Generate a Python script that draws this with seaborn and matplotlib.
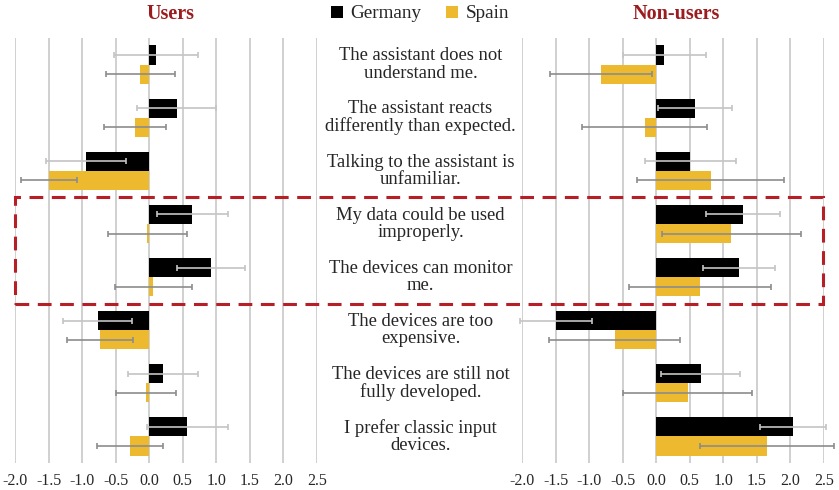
import matplotlib
matplotlib.use("Agg")
import matplotlib.pyplot as plt
import matplotlib.transforms as mtransforms
from matplotlib.patches import Rectangle
import seaborn as sns
import pandas as pd
import numpy as np

# ---------------- data ----------------
items = [
    "The assistant does not\nunderstand me.",
    "The assistant reacts\ndifferently than expected.",
    "Talking to the assistant is\nunfamiliar.",
    "My data could be used\nimproperly.",
    "The devices can monitor\nme.",
    "The devices are too\nexpensive.",
    "The devices are still not\nfully developed.",
    "I prefer classic input\ndevices.",
]
countries = ["Germany", "Spain"]

users_germany = [0.10, 0.41, -0.94, 0.64, 0.92, -0.77, 0.21, 0.57]
users_spain = [-0.13, -0.21, -1.49, -0.03, 0.06, -0.73, -0.05, -0.29]
users_germany_sd = [0.62, 0.59, 0.60, 0.53, 0.51, 0.51, 0.52, 0.60]
users_spain_sd = [0.51, 0.46, 0.42, 0.59, 0.57, 0.49, 0.45, 0.49]

nonusers_germany = [0.12, 0.58, 0.51, 1.29, 1.23, -1.49, 0.66, 2.04]
nonusers_spain = [-0.82, -0.17, 0.81, 1.12, 0.65, -0.62, 0.47, 1.65]
nonusers_germany_sd = [0.62, 0.55, 0.68, 0.55, 0.54, 0.54, 0.59, 0.49]
nonusers_spain_sd = [0.76, 0.93, 1.10, 1.03, 1.06, 0.98, 0.96, 1.00]

xticks = [-2.0, -1.5, -1.0, -0.5, 0.0, 0.5, 1.0, 1.5, 2.0, 2.5]
highlight_first, highlight_last = 3, 4  # items inside the red dashed box

panel_titles = ["Users", "Non-users"]

# ---------------- style ----------------
sns.set_theme(style="white")
plt.rcParams["font.family"] = ["Liberation Serif", "DejaVu Serif"]

palette = {"Germany": "#000000", "Spain": "#EDB92E"}
err_colors = {"Germany": "#c4c4c4", "Spain": "#8c8c8c"}
title_color = "#9B1B1E"
box_color = "#B51F25"

W, H = 839, 490
fig = plt.figure(figsize=(W / 100, H / 100), dpi=100)

ax_w = 302 / W
ax_b, ax_h = 0.0551, 0.8673
axes = [fig.add_axes([15 / W, ax_b, ax_w, ax_h]),
        fig.add_axes([522 / W, ax_b, ax_w, ax_h])]

panels = [
    (users_germany, users_spain, users_germany_sd, users_spain_sd),
    (nonusers_germany, nonusers_spain, nonusers_germany_sd, nonusers_spain_sd),
]

for ax, (g, s, gsd, ssd), title in zip(axes, panels, panel_titles):
    df = pd.DataFrame({
        "item": items * 2,
        "country": ["Germany"] * len(items) + ["Spain"] * len(items),
        "value": list(g) + list(s),
    })
    sns.barplot(data=df, y="item", x="value", hue="country", order=items,
                hue_order=countries, palette=palette, orient="h",
                width=0.72, errorbar=None, saturation=1, ax=ax, zorder=2,
                linewidth=0)
    # error bars at the bar positions
    for cont, vals, sds, c in zip(ax.containers, (g, s), (gsd, ssd), countries):
        ys = [bar.get_y() + bar.get_height() / 2 for bar in cont]
        eb = ax.errorbar(vals, ys, xerr=sds, fmt="none", ecolor=err_colors[c],
                         elinewidth=1.2, capsize=2.5, capthick=1.2, zorder=4)
        for child in eb.get_children():
            child.set_clip_on(False)
    ax.set_xlim(-2.0, 2.5)
    ax.set_ylim(len(items) - 0.5, -0.5)
    ax.set_xticks(xticks)
    ax.set_xticklabels([f"{t:.1f}" for t in xticks], fontsize=11.5)
    ax.set_yticks([])
    ax.set_xlabel("")
    ax.set_ylabel("")
    ax.grid(axis="x", color="#c8c8c8", linewidth=1.2, zorder=0)
    ax.set_axisbelow(True)
    for sp in ax.spines.values():
        sp.set_visible(False)
    ax.tick_params(axis="x", length=0, pad=7)
    ax.get_legend().remove()

# panel titles
fig.text(170 / W, 1 - 14 / H, panel_titles[0], ha="center", va="center",
         fontsize=14.5, fontweight="bold", color=title_color)
fig.text(676 / W, 1 - 14 / H, panel_titles[1], ha="center", va="center",
         fontsize=14.5, fontweight="bold", color=title_color)

# legend
handles, labels = axes[0].get_legend_handles_labels()
fig.legend(handles, labels, loc="center", bbox_to_anchor=(420 / W, 1 - 14 / H),
           ncol=2, frameon=False, fontsize=13.8, handlelength=0.6,
           handleheight=0.6, handletextpad=0.4, columnspacing=1.3)

# central item labels
trans = mtransforms.blended_transform_factory(fig.transFigure, axes[0].transData)
for i, lab in enumerate(items):
    fig.text(420.5 / W, i, lab, transform=trans, ha="center", va="center",
             fontsize=13.4, linespacing=1.02)

# red dashed highlight box
rect = Rectangle((15 / W, highlight_last + 0.5), (822.7 - 15) / W,
                 (highlight_first - 0.5) - (highlight_last + 0.5),
                 transform=trans, fill=False, edgecolor=box_color,
                 linewidth=2.2, linestyle=(0, (4.5, 2.8)), clip_on=False,
                 zorder=10)
fig.add_artist(rect)

fig.savefig("out.png", dpi=100)
